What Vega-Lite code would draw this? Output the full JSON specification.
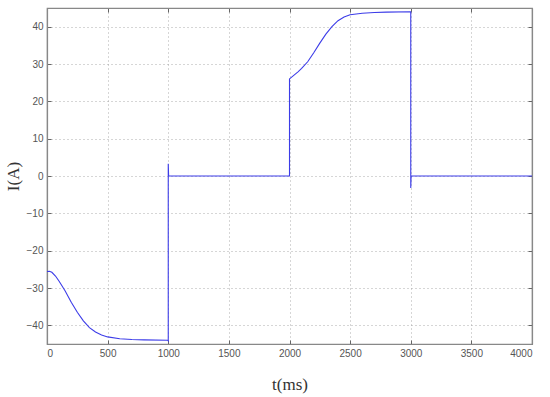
{
  "$schema": "https://vega.github.io/schema/vega-lite/v6.json",
  "autosize": "none",
  "width": 485,
  "height": 336,
  "padding": {"left": 47, "top": 8, "right": 18, "bottom": 53},
  "background": "white",
  "config": {
    "view": {"stroke": "#888", "strokeWidth": 1.2},
    "axis": {
      "labelFont": "Liberation Sans",
      "labelFontSize": 10,
      "labelColor": "#555",
      "domainColor": "#888",
      "domainWidth": 1.2,
      "tickColor": "#666",
      "tickSize": -4,
      "gridColor": "#999",
      "gridDash": [1, 3],
      "gridWidth": 1,
      "gridOpacity": 0.8,
      "titleFont": "Liberation Serif",
      "titleFontSize": 17,
      "titleFontWeight": "normal",
      "titleColor": "#333"
    }
  },
  "data": {
    "values": [
      {"k": 0, "t": 0, "i": -25.6},
      {"k": 1, "t": 20, "i": -25.5},
      {"k": 2, "t": 40, "i": -25.8},
      {"k": 3, "t": 70, "i": -26.8},
      {"k": 4, "t": 100, "i": -28.2},
      {"k": 5, "t": 150, "i": -30.8},
      {"k": 6, "t": 200, "i": -33.8},
      {"k": 7, "t": 250, "i": -36.5},
      {"k": 8, "t": 300, "i": -38.8},
      {"k": 9, "t": 350, "i": -40.6},
      {"k": 10, "t": 400, "i": -41.8},
      {"k": 11, "t": 450, "i": -42.6},
      {"k": 12, "t": 500, "i": -43.1},
      {"k": 13, "t": 600, "i": -43.6},
      {"k": 14, "t": 700, "i": -43.8},
      {"k": 15, "t": 800, "i": -43.9},
      {"k": 16, "t": 995, "i": -44.0},
      {"k": 17, "t": 1000, "i": -44.2},
      {"k": 18, "t": 1000, "i": 3.3},
      {"k": 19, "t": 1003, "i": 0},
      {"k": 20, "t": 2000, "i": 0},
      {"k": 21, "t": 2000, "i": 26},
      {"k": 22, "t": 2030, "i": 26.8},
      {"k": 23, "t": 2070, "i": 27.9},
      {"k": 24, "t": 2100, "i": 28.8},
      {"k": 25, "t": 2150, "i": 30.6},
      {"k": 26, "t": 2200, "i": 33.0},
      {"k": 27, "t": 2250, "i": 35.6},
      {"k": 28, "t": 2300, "i": 38.0},
      {"k": 29, "t": 2350, "i": 40.0},
      {"k": 30, "t": 2400, "i": 41.6},
      {"k": 31, "t": 2450, "i": 42.6},
      {"k": 32, "t": 2500, "i": 43.2},
      {"k": 33, "t": 2600, "i": 43.6},
      {"k": 34, "t": 2700, "i": 43.8},
      {"k": 35, "t": 2800, "i": 43.9},
      {"k": 36, "t": 3000, "i": 44.0},
      {"k": 37, "t": 3000, "i": -3.2},
      {"k": 38, "t": 3003, "i": 0},
      {"k": 39, "t": 4000, "i": 0}
    ]
  },
  "layer": [
    {
      "mark": {"type": "line", "color": "#3c3ce8", "strokeWidth": 1.1},
      "encoding": {
        "x": {
          "field": "t", "type": "quantitative",
          "scale": {"domain": [0, 4000], "nice": false},
          "axis": {"values": [0, 500, 1000, 1500, 2000, 2500, 3000, 3500, 4000], "format": "d", "grid": true, "title": "t(ms)", "labelPadding": 8, "titlePadding": 18}
        },
        "y": {
          "field": "i", "type": "quantitative",
          "scale": {"domain": [-45, 45], "nice": false},
          "axis": {"values": [-40, -30, -20, -10, 0, 10, 20, 30, 40], "format": "d", "grid": true, "title": "I(A)", "labelPadding": 8, "titlePadding": 4}
        },
        "order": {"field": "k"}
      }
    },
    {
      "mark": {"type": "line", "opacity": 0},
      "encoding": {
        "x": {
          "field": "t", "type": "quantitative",
          "axis": {"orient": "top", "values": [500, 1000, 1500, 2000, 2500, 3000, 3500], "labels": false, "grid": false, "title": null}
        },
        "y": {
          "field": "i", "type": "quantitative",
          "axis": {"orient": "right", "values": [-40, -30, -20, -10, 0, 10, 20, 30, 40], "labels": false, "grid": false, "title": null}
        },
        "order": {"field": "k"}
      }
    }
  ],
  "resolve": {"axis": {"x": "independent", "y": "independent"}}
}
